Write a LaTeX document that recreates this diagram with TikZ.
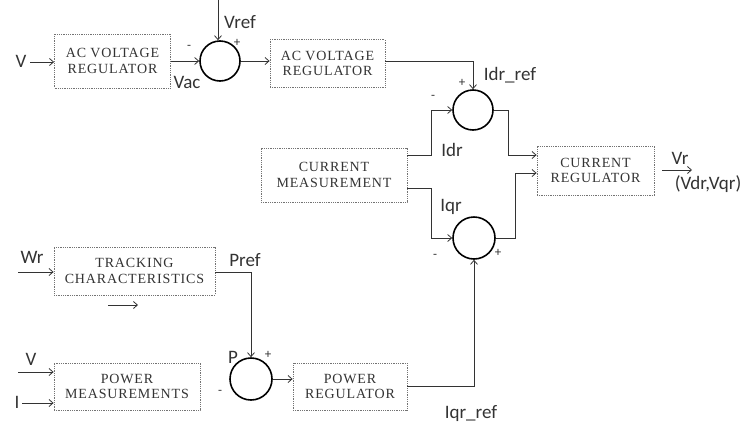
\documentclass[tikz,border=0pt]{standalone}
\usepackage{fontspec}
\setmainfont{Liberation Serif}
\newfontfamily\lblfont{Carlito}
\usetikzlibrary{arrows.meta}
\definecolor{ink}{gray}{0.2}
\definecolor{boxline}{gray}{0.45}
\tikzset{
  blk/.style={draw=boxline, densely dotted, line width=0.8pt, minimum width=#1, inner sep=0pt, align=center, text=ink,
     font=\fontsize{14}{15.5}\selectfont\addfontfeatures{LetterSpace=6}},
  sumc/.style={circle, draw=black, line width=1.6pt, minimum size=40pt, inner sep=0pt},
  conn/.style={draw=ink, line width=0.8pt},
  arr/.style={conn, -{Straight Barb[length=4pt,width=7pt]}},
  lbl/.style={text=ink, font=\lblfont\fontsize{19}{20}\selectfont, inner sep=0pt},
  sgn/.style={text=ink, font=\lblfont\fontsize{13}{14}\selectfont, inner sep=0pt},
}
\begin{document}
\begin{tikzpicture}[x=1pt,y=-1pt]
\useasboundingbox (0,0) rectangle (751,426);
% blocks
\node[blk=116pt, minimum height=54pt] (box1) at (112.5,61) {AC VOLTAGE\\REGULATOR};
\node[sumc] (sum1) at (220,61) {};
\node[blk=115pt, minimum height=48pt] (box2) at (327.5,63.5) {AC VOLTAGE\\REGULATOR};
\node[sumc] (sum2) at (473,110) {};
\node[blk=146pt, minimum height=54pt] (cm) at (334,175) {CURRENT\\MEASUREMENT};
\node[sumc, minimum size=42pt] (sum3) at (474,238) {};
\node[blk=117pt, minimum height=49pt] (cr) at (595.5,170.5) {CURRENT\\REGULATOR};
\node[blk=161pt, minimum height=48pt] (track) at (134.5,271) {TRACKING\\CHARACTERISTICS};
\node[blk=146pt, minimum height=47pt] (pm) at (127,386.5) {POWER\\MEASUREMENTS};
\node[sumc, minimum size=42pt] (sum4) at (251,379) {};
\node[blk=114pt, minimum height=47pt] (pr) at (350,386.5) {POWER\\REGULATOR};
% coordinates
\coordinate (vin) at (30,62);
\coordinate (vreftop) at (218,0);
\coordinate (jd) at (431,155);
\coordinate (jq) at (431,188);
\coordinate (j3) at (508,155);
\coordinate (j4) at (515,173);
\coordinate (prout) at (407,386);
\coordinate (wrin) at (18,272);
\coordinate (trout) at (215,272);
\coordinate (orA) at (108,305);
\coordinate (orB) at (138,305);
\coordinate (vin2) at (18,372);
\coordinate (iin) at (22,403);
\coordinate (vrA) at (662,170);
\coordinate (vrB) at (692,170);
% connectors
\draw[arr] (vin) -- (vin -| box1.west);
\draw[arr] (box1.east |- sum1) -- (sum1.west);
\draw[arr] (vreftop) -- (vreftop |- sum1.north);
\draw[arr] (sum1.east) -- (sum1.east -| box2.west);
\draw[arr] (box2.east |- sum1) -| (sum2.north);
\draw[arr] (cm.east |- jd) -- (jd) |- (sum2.west);
\draw[arr] (cm.east |- jq) -- (jq) |- (sum3.west);
\draw[arr] (sum2.east) -| (j3) -- (j3 -| cr.west);
\draw[arr] (sum3.east) -| (j4) -- (j4 -| cr.west);
\draw[arr] (prout) -| (sum3.south);
\draw[arr] (wrin) -- (wrin -| track.west);
\draw[arr] (trout) -| (sum4.north);
\draw[arr] (orA) -- (orB);
\draw[arr] (vin2) -- (vin2 -| pm.west);
\draw[arr] (iin) -- (iin -| pm.west);
\draw[arr] (sum4.east) -- (sum4.east -| pr.west);
\draw[arr] (vrA) -- (vrB);
% labels
\node[lbl] (lv) at (21,61) {V};
\node[lbl] (lvref) at (240,22) {Vref};
\node[sgn] (s1m) at (189,47) {-};
\node[sgn] (s1p) at (237,43) {+};
\node[lbl] (lvac) at (187,82) {Vac};
\node[lbl] (lidrref) at (510,75) {Idr\_ref};
\node[sgn] (s2p) at (462,83) {+};
\node[sgn] (s2m) at (433,97) {-};
\node[lbl] (lidr) at (452,150) {Idr};
\node[lbl] (liqr) at (451,207) {Iqr};
\node[sgn] (s3m) at (435,256) {-};
\node[sgn] (s3p) at (498,253) {+};
\node[lbl] (lvr) at (680,158) {Vr};
\node[lbl] (lvdq) at (708,184) {(Vdr,Vqr)};
\node[lbl] (lwr) at (32,257) {Wr};
\node[lbl] (lpref) at (245,260) {Pref};
\node[lbl] (lp) at (233,357) {P};
\node[sgn] (s4p) at (268,355) {+};
\node[sgn] (s4m) at (220,392) {-};
\node[lbl] (lv2) at (31,359) {V};
\node[lbl] (li) at (17,402) {I};
\node[lbl] (liqrref) at (471,414) {Iqr\_ref};
\end{tikzpicture}
\end{document}
